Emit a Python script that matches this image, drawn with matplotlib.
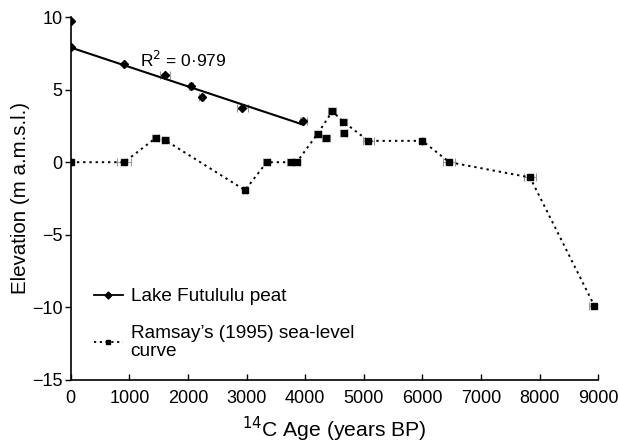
import numpy as np
import matplotlib
matplotlib.use("Agg")
import matplotlib.pyplot as plt
from matplotlib.lines import Line2D

plt.rcParams['font.family'] = ['Liberation Sans', 'DejaVu Sans']

# Lake Futululu peat
lake_age = [0, 0, 915, 1609, 2052, 2235, 2928, 3968]
lake_elev = [9.7, 7.9, 6.73, 5.99, 5.23, 4.52, 3.74, 2.82]
lake_err = [0, 0, 0, 90, 40, 40, 90, 60]

# Ramsay's (1995) sea-level curve (connected points)
ram_age = [0, 914, 1450, 1609, 2974, 3344, 3753, 3856, 4214, 4463, 4646, 5077, 5998, 6459, 7836, 8933]
ram_elev = [0, 0, 1.67, 1.52, -1.93, 0, 0, 0, 1.97, 3.51, 2.8, 1.47, 1.47, 0, -1.05, -9.89]
ram_err = [0, 120, 60, 60, 40, 60, 60, 60, 60, 70, 60, 90, 0, 100, 100, 100]
# Extra Ramsay points (not on line)
ram_x_age = [4350, 4657]
ram_x_elev = [1.67, 2.0]
ram_x_err = [70, 60]

W, H = 619, 443
fig = plt.figure(figsize=(W / 100, H / 100), dpi=100)
ax_l, ax_r, ax_t, ax_b = 70.7, 598.3, 17.0, 380.0
ax = fig.add_axes([ax_l / W, 1 - ax_b / H, (ax_r - ax_l) / W, (ax_b - ax_t) / H])

ekw = dict(fmt='none', ecolor='#999999', elinewidth=0.8, capsize=3, capthick=0.8, zorder=2)
ax.errorbar(lake_age, lake_elev, xerr=lake_err, **ekw)
ax.errorbar(ram_age, ram_elev, xerr=ram_err, **ekw)
ax.errorbar(ram_x_age, ram_x_elev, xerr=ram_x_err, **ekw)

dot = (0, (1.2, 2.0))
# Ramsay curve
ax.plot(ram_age, ram_elev, linestyle=dot, color='black', linewidth=1.4,
        marker='s', markersize=4.5, markerfacecolor='black', zorder=3)
ax.plot(ram_x_age, ram_x_elev, linestyle='none', marker='s', markersize=4.5, color='black', zorder=3)

# Lake points + regression
ax.plot(lake_age, lake_elev, linestyle='none', marker='D', markersize=4.5, color='black', zorder=4)
fx = np.array(lake_age[1:])
fy = np.array(lake_elev[1:])
slope, intercept = np.polyfit(fx, fy, 1)
xx = np.array([0, max(lake_age)])
ax.plot(xx, slope * xx + intercept, color='black', linewidth=1.5, zorder=3)
ax.text(1182, 7.04, 'R$^{2}$ = 0·979', fontsize=12.5, va='center', ha='left')

ax.set_xlim(0, 9000)
ax.set_ylim(-15, 10)
ax.set_xticks(range(0, 9001, 1000))
ax.set_yticks([-15, -10, -5, 0, 5, 10])
ax.spines['top'].set_visible(False)
ax.spines['right'].set_visible(False)
ax.spines['left'].set_linewidth(1.2)
ax.spines['bottom'].set_linewidth(1.2)
ax.tick_params(axis='x', direction='in', length=4, width=1, labelsize=13, pad=7)
ax.tick_params(axis='y', direction='out', length=4, width=1, labelsize=13, pad=2)

ax.set_xlabel('$^{14}$C Age (years BP)', fontsize=15.2)
ax.xaxis.set_label_coords(0.5, (ax_b - 437.5) / (ax_b - ax_t))
ax.xaxis.label.set_va('baseline')
ax.set_ylabel('Elevation (m a.m.s.l.)', fontsize=14.8)
ax.yaxis.set_label_coords((20 - ax_l) / (ax_r - ax_l), 0.5)
ax.yaxis.label.set_va('center')

handles = [
    Line2D([0], [0], color='black', linewidth=1.3, marker='D', markersize=3.5),
    Line2D([0], [0], color='black', linewidth=1.3, linestyle=dot, marker='s', markersize=3.5),
]
labels = ['Lake Futululu peat', 'Ramsay\u2019s (1995) sea-level\ncurve']
leg = ax.legend(handles, labels, loc='upper left', bbox_to_anchor=(94 / W, 1 - 288 / H),
                bbox_transform=fig.transFigure, frameon=False, borderpad=0, borderaxespad=0,
                fontsize=13.7, handlelength=1.5, handletextpad=0.42, labelspacing=1.05)
for t in leg.get_texts():
    t.set_linespacing(1.05)

fig.savefig('out.png', dpi=100)
